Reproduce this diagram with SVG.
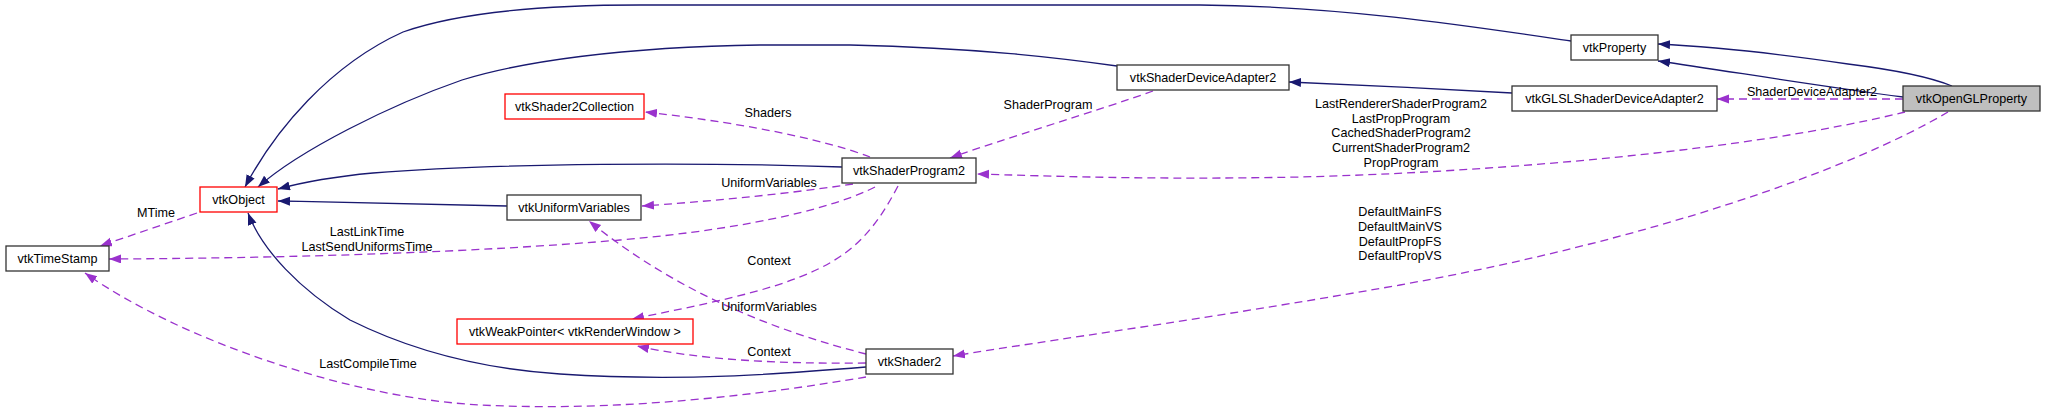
<svg xmlns="http://www.w3.org/2000/svg" width="2045" height="417" viewBox="0 0 2045 417">
<style>
.n rect{fill:#fff;stroke:#333;stroke-width:1.3}
.n.red rect{stroke:#ff0000}
.n.cur rect{fill:#bfbfbf}
text{font-family:"Liberation Sans",Arial,sans-serif;font-size:12.6px;fill:#000;text-anchor:middle}
.s{fill:none;stroke:#191970;stroke-width:1.3}
.d{fill:none;stroke:#9a32cd;stroke-width:1.3;stroke-dasharray:8,5}
</style>
<defs>
<marker id="an" markerUnits="userSpaceOnUse" markerWidth="14" markerHeight="10" refX="12" refY="4.5" orient="auto"><path d="M0,0 L12,4.5 L0,9 z" fill="#191970"/></marker>
<marker id="ap" markerUnits="userSpaceOnUse" markerWidth="14" markerHeight="10" refX="12" refY="4.5" orient="auto"><path d="M0,0 L12,4.5 L0,9 z" fill="#9a32cd"/></marker>
</defs>
<rect width="2045" height="417" fill="#fff"/>
<g id="connectors">
<path class="s" marker-end="url(#an)" d="M1571,41 C1470,26 1340,6 1200,5 L640,5 C540,5 460,12 403,32 C330,65 275,130 245,187"/>
<path class="s" marker-end="url(#an)" d="M1117,66 C1060,58 980,48 850,45 L760,45 C620,47 520,62 462,80 C390,105 300,150 258,187"/>
<path class="s" marker-end="url(#an)" d="M842,167 C700,162 500,163 373,173 C330,177 300,183 278,189"/>
<path class="s" marker-end="url(#an)" d="M507,206 C420,204 350,202 278,201"/>
<path class="s" marker-end="url(#an)" d="M866,367 C780,374 680,382 560,374 C470,368 400,345 350,320 C300,290 262,250 248,213"/>
<path class="s" marker-end="url(#an)" d="M1952,86 C1925,75 1880,68 1848,64 C1780,54 1720,47 1658,44"/>
<path class="s" marker-end="url(#an)" d="M1903,97 C1820,86 1740,73 1658,61"/>
<path class="s" marker-end="url(#an)" d="M1512,93 C1440,89 1360,85 1289,82"/>
<path class="d" marker-end="url(#ap)" d="M1903,99 L1717,99"/>
<path class="d" marker-end="url(#ap)" d="M1153,91 C1100,110 1000,140 950,158"/>
<path class="d" marker-end="url(#ap)" d="M1905,112 C1750,150 1500,172 1300,177 C1150,180 1050,176 977,174"/>
<path class="d" marker-end="url(#ap)" d="M1948,112 C1850,170 1650,240 1400,285 C1200,320 1050,340 953,356"/>
<path class="d" marker-end="url(#ap)" d="M870,157 C830,142 760,125 645,112"/>
<path class="d" marker-end="url(#ap)" d="M853,184 C780,195 700,202 642,206"/>
<path class="d" marker-end="url(#ap)" d="M875,187 C840,205 760,228 620,240 C480,252 300,258 109,259"/>
<path class="d" marker-end="url(#ap)" d="M898,186 C880,220 860,250 816,270 C770,292 700,305 632,319"/>
<path class="d" marker-end="url(#ap)" d="M866,354 C780,332 680,295 589,221"/>
<path class="d" marker-end="url(#ap)" d="M866,363 C780,364 700,360 637,346"/>
<path class="d" marker-end="url(#ap)" d="M866,377 C760,395 620,412 480,405 C350,398 180,340 85,273"/>
<path class="d" marker-end="url(#ap)" d="M197,213 L100,246"/>
<text x="156" y="216.5">MTime</text>
<text x="367" y="235.5">LastLinkTime</text>
<text x="367" y="251">LastSendUniformsTime</text>
<text x="368" y="367.5">LastCompileTime</text>
<text x="768" y="116.5">Shaders</text>
<text x="769" y="186.5">UniformVariables</text>
<text x="769" y="264.5">Context</text>
<text x="769" y="310.5">UniformVariables</text>
<text x="769" y="355.5">Context</text>
<text x="1048" y="108.5">ShaderProgram</text>
<text x="1812" y="95.5">ShaderDeviceAdapter2</text>
<text x="1401" y="108">LastRendererShaderProgram2</text>
<text x="1401" y="122.7">LastPropProgram</text>
<text x="1401" y="137.4">CachedShaderProgram2</text>
<text x="1401" y="152.1">CurrentShaderProgram2</text>
<text x="1401" y="166.8">PropProgram</text>
<text x="1400" y="216.3">DefaultMainFS</text>
<text x="1400" y="231">DefaultMainVS</text>
<text x="1400" y="245.7">DefaultPropFS</text>
<text x="1400" y="260.4">DefaultPropVS</text>
</g>
<g id="vtkTimeStamp" class="n"><rect x="6" y="246" width="103" height="25"/><text x="57.5" y="263">vtkTimeStamp</text></g>
<g id="vtkObject" class="n red"><rect x="200" y="187" width="77" height="25"/><text x="238.5" y="204">vtkObject</text></g>
<g id="vtkShader2Collection" class="n red"><rect x="505" y="94" width="139" height="25"/><text x="574.5" y="111">vtkShader2Collection</text></g>
<g id="vtkUniformVariables" class="n"><rect x="507" y="195" width="134" height="25"/><text x="574" y="212">vtkUniformVariables</text></g>
<g id="vtkShaderProgram2" class="n"><rect x="842" y="158" width="134" height="25"/><text x="909" y="175">vtkShaderProgram2</text></g>
<g id="vtkWeakPointer" class="n red"><rect x="457" y="319" width="236" height="25"/><text x="575" y="336">vtkWeakPointer&lt; vtkRenderWindow &gt;</text></g>
<g id="vtkShader2" class="n"><rect x="866" y="349" width="87" height="25"/><text x="909.5" y="366">vtkShader2</text></g>
<g id="vtkShaderDeviceAdapter2" class="n"><rect x="1117" y="65" width="172" height="25"/><text x="1203" y="82">vtkShaderDeviceAdapter2</text></g>
<g id="vtkProperty" class="n"><rect x="1571" y="35" width="87" height="25"/><text x="1614.5" y="52">vtkProperty</text></g>
<g id="vtkGLSLShaderDeviceAdapter2" class="n"><rect x="1512" y="86" width="205" height="25"/><text x="1614.5" y="103">vtkGLSLShaderDeviceAdapter2</text></g>
<g id="vtkOpenGLProperty" class="n cur"><rect x="1903" y="86" width="137" height="25"/><text x="1971.5" y="103">vtkOpenGLProperty</text></g>
</svg>
